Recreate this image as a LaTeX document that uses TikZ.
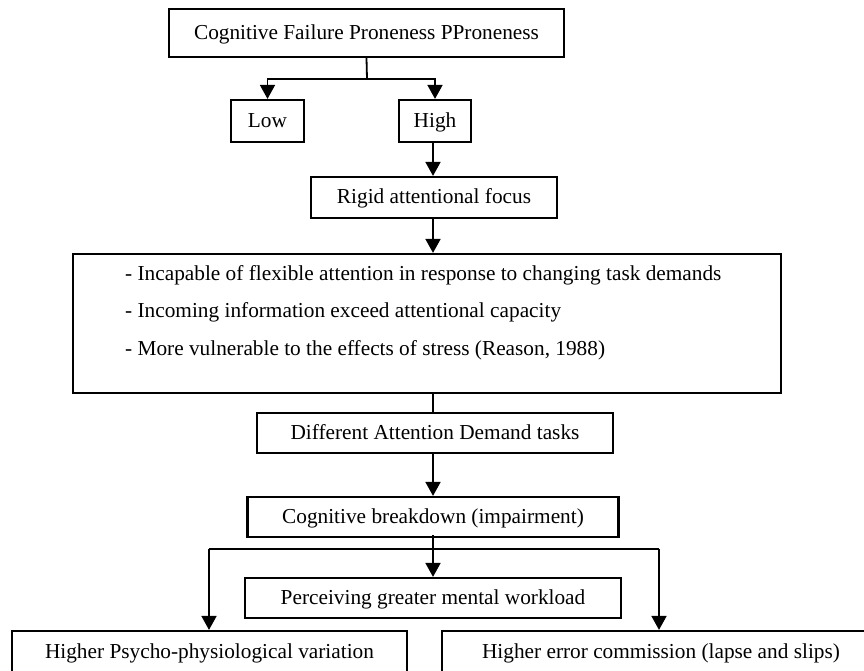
\documentclass[tikz,border=0pt]{standalone}
\usepackage{fontspec}
\setmainfont{Liberation Serif}
\usetikzlibrary{arrows.meta,calc}
\begin{document}
\begin{tikzpicture}[x=1pt,y=-1pt,
  box/.style={draw,line width=2.2pt,inner sep=0pt,text height=15pt,text depth=3pt,font=\fontsize{21.3}{25}\selectfont},
  txt/.style={inner sep=0pt,font=\fontsize{21.3}{25}\selectfont,anchor=base west},
  conn/.style={line width=1.8pt},
  arr/.style={conn,-{Triangle[width=15pt,length=14pt]}}]
\useasboundingbox (0,0) rectangle (864,670);
\clip (0,0) rectangle (864,670);
% boxes
\node[box,minimum width=395pt,minimum height=48pt] (top) at (366.5,33) {Cognitive Failure Proneness PProneness};
\node[box,minimum width=73pt,minimum height=42pt] (low) at (267.5,121) {Low};
\node[box,minimum width=72pt,minimum height=42pt] (high) at (435,121) {High};
\node[box,minimum width=246pt,minimum height=41pt] (rigid) at (434,197.5) {Rigid attentional focus};
\node[box,minimum width=708pt,minimum height=139pt] (big) at (427,323.5) {};
\node[txt] (l1) at (125,280) {- Incapable of flexible attention in response to changing task demands};
\node[txt] (l2) at (125,317) {- Incoming information exceed attentional capacity};
\node[txt] (l3) at (125,355) {- More vulnerable to the effects of stress (Reason, 1988)};
\node[box,minimum width=356pt,minimum height=40pt] (diff) at (435,433) {Different Attention Demand tasks};
\node[box,minimum width=371pt,minimum height=40pt] (cog) at (433,517) {Cognitive breakdown (impairment)};
\node[box,minimum width=376pt,minimum height=40pt] (perc) at (433,598) {Perceiving greater mental workload};
\node[box,minimum width=395pt,minimum height=42pt] (bl) at (209.5,652) {Higher Psycho-physiological variation};
\node[box,minimum width=438pt,minimum height=42pt] (br) at (661,652) {Higher error commission (lapse and slips)};
% connectors
\coordinate (j) at (367,79);
\draw[conn] (top.south) -- (j);
\draw[arr] (j) -| (low.north);
\draw[arr] (j) -| (high.north);
\coordinate (c1) at (433,142);
\draw[arr] (c1) -- (c1 |- rigid.north);
\coordinate (c2) at (433,218);
\draw[arr] (c2) -- (c2 |- big.north);
\coordinate (c3) at (433,393);
\draw[conn] (c3) -- (c3 |- diff.north);
\coordinate (c4) at (433,453);
\draw[arr] (c4) -- (c4 |- cog.north);
\coordinate (c5) at (433,535);
\draw[arr] (c5) -- (c5 |- perc.north);
\coordinate (hl) at (209,549);
\coordinate (hr) at (659,549);
\draw[conn] (hl) -- (hr);
\draw[arr] (hl) -- (hl |- bl.north);
\draw[arr] (hr) -- (hr |- br.north);
\end{tikzpicture}
\end{document}
